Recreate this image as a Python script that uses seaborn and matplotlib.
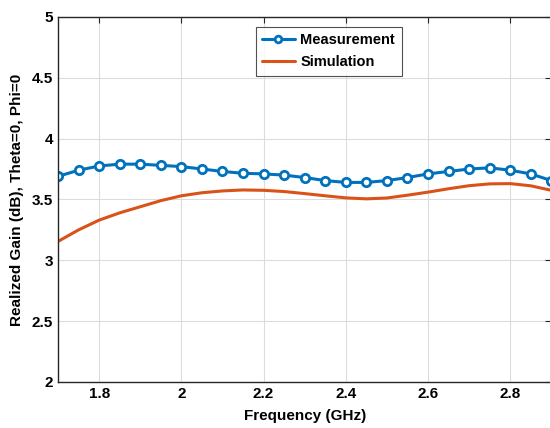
import seaborn as sns
import pandas as pd
import matplotlib
matplotlib.use("Agg")
import matplotlib.pyplot as plt

freq = [1.70, 1.75, 1.80, 1.85, 1.90, 1.95, 2.00, 2.05, 2.10, 2.15, 2.20, 2.25,
        2.30, 2.35, 2.40, 2.45, 2.50, 2.55, 2.60, 2.65, 2.70, 2.75, 2.80, 2.85, 2.90]
measured = [3.69, 3.74, 3.775, 3.79, 3.79, 3.78, 3.77, 3.75, 3.73, 3.715, 3.71, 3.70,
            3.68, 3.655, 3.64, 3.64, 3.655, 3.68, 3.71, 3.73, 3.75, 3.76, 3.74, 3.71, 3.655]
simulated = [3.155, 3.25, 3.33, 3.39, 3.44, 3.49, 3.53, 3.555, 3.57, 3.578, 3.575, 3.565,
             3.548, 3.53, 3.513, 3.505, 3.512, 3.535, 3.56, 3.588, 3.613, 3.628, 3.63, 3.612, 3.575]

meas = pd.DataFrame({"f": freq, "g": measured})
sim = pd.DataFrame({"f": freq, "g": simulated})

sns.set_style("white")
plt.rcParams['font.family'] = ['Liberation Sans', 'DejaVu Sans']
plt.rcParams['font.weight'] = 'bold'

fig = plt.figure(figsize=(5.5, 4.28), dpi=100)
ax = fig.add_axes([0.1055, 0.1075, 0.897, 0.853])

sns.lineplot(data=meas, x="f", y="g", ax=ax, color="#0072BD", linewidth=2.2,
             marker="o", markersize=6, markerfacecolor="white",
             markeredgecolor="#0072BD", markeredgewidth=2, label="Measurement")
sns.lineplot(data=sim, x="f", y="g", ax=ax, color="#D95319", linewidth=2.2,
             label="Simulation")

ax.set_xlim(1.7, 2.9)
ax.set_ylim(2, 5)
ax.set_xticks([1.8, 2.0, 2.2, 2.4, 2.6, 2.8])
ax.set_xticklabels(["1.8", "2", "2.2", "2.4", "2.6", "2.8"])
ax.set_yticks([2, 2.5, 3, 3.5, 4, 4.5, 5])
ax.set_yticklabels(["2", "2.5", "3", "3.5", "4", "4.5", "5"])
ax.grid(True, color="#dcdcdc", linewidth=0.8)
ax.tick_params(direction="in", length=4, labelsize=11, top=True, right=True,
               colors="#262626", labelcolor="black", width=0.8)
for s in ["left", "bottom", "top"]:
    ax.spines[s].set_color("#262626")
    ax.spines[s].set_linewidth(1)
ax.spines["right"].set_visible(False)

ax.set_xlabel("Frequency (GHz)", fontsize=11, fontweight="bold", labelpad=6,
              color="black")
ax.set_ylabel("Realized Gain (dB), Theta=0, Phi=0", fontsize=11, fontweight="bold",
              labelpad=6, color="black")

leg = ax.legend(loc="upper left", bbox_to_anchor=(0.401, 0.973), borderaxespad=0,
                fontsize=10.5, frameon=True, fancybox=False, edgecolor="#262626",
                handlelength=2.2, handletextpad=0.4, borderpad=0.45,
                labelspacing=0.55, markerscale=0.8)
leg.get_frame().set_linewidth(0.8)
for t in leg.get_texts():
    t.set_fontweight("bold")
    t.set_color("black")

fig.savefig("out.png", dpi=100)
